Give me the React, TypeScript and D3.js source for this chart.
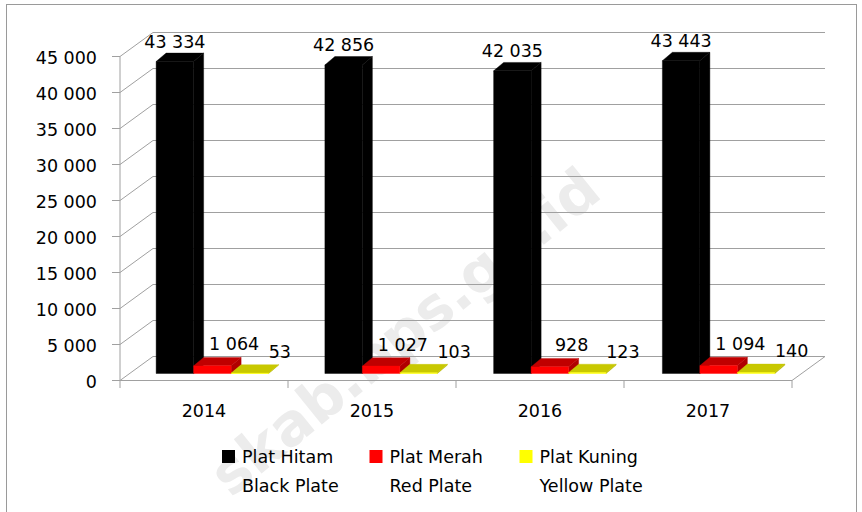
import React from "react";
import * as d3 from "d3";

const years = ["2014", "2015", "2016", "2017"];
const seriesNames = ["Plat Hitam", "Plat Merah", "Plat Kuning"];
const seriesSubNames = ["Black Plate", "Red Plate", "Yellow Plate"];
const platHitam = [43334, 42856, 42035, 43443];
const platMerah = [1064, 1027, 928, 1094];
const platKuning = [53, 103, 123, 140];
const yTicks = [0, 5000, 10000, 15000, 20000, 25000, 30000, 35000, 40000, 45000];

const W = 862;
const H = 512;
const FONT = "DejaVu Sans";
const FS = 17.5;
const GRID = "#a0a0a0";

// face colours per series: [front, top, side]
const faceColors = [
  ["#000000", "#000000", "#000000"],
  ["#ff0000", "#c00000", "#b00000"],
  ["#ffff00", "#c8c800", "#b4b400"],
];
const legendColors = ["#000000", "#ff0000", "#ffff00"];

const fmt = d3.formatLocale({ decimal: ",", thousands: " ", grouping: [3], currency: ["", ""] }).format(",");

export default function App() {
  const values = [platHitam, platMerah, platKuning];
  const x0 = 120, x1 = 792;
  const x = d3.scaleBand<string>().domain(years).range([x0, x1]).paddingInner(0).paddingOuter(0);
  const xs = d3
    .scaleBand<string>()
    .domain(seriesNames)
    .range([0, x.bandwidth()])
    .paddingInner(0)
    .paddingOuter(0.75);
  const y = d3.scaleLinear().domain([0, 45000]).range([380.5, 56.5]);

  // wall / floor depth (oblique)
  const DX = 33, DY = -24;
  // bar depth placement
  const frontDX = (px: number) => 8 + (3 * (px - x0)) / (x1 - x0);
  const frontDY = -7;
  const barDX = 10, barDY = -8.4;

  const bars: React.ReactNode[] = [];
  const labels: React.ReactNode[] = [];

  years.forEach((yr, i) => {
    seriesNames.forEach((s, k) => {
      const v = values[k][i];
      const pxL = (x(yr) as number) + (xs(s) as number);
      const pxR = pxL + xs.bandwidth();
      const lx = pxL + frontDX(pxL);
      const rx = pxR + frontDX(pxR);
      const yt = y(v) + frontDY;
      const yb = y(0) + frontDY;
      const [cf, ct, cs] = faceColors[k];
      const front = `M${lx},${yt}L${rx},${yt}L${rx},${yb}L${lx},${yb}Z`;
      const top = `M${lx},${yt}L${rx},${yt}L${rx + barDX},${yt + barDY}L${lx + barDX},${yt + barDY}Z`;
      const side = `M${rx},${yt}L${rx + barDX},${yt + barDY}L${rx + barDX},${yb + barDY}L${rx},${yb}Z`;
      bars.push(
        <g key={`b-${i}-${k}`}>
          <path d={side} fill={cs} stroke={cs} strokeWidth={0.4} />
          <path d={top} fill={ct} stroke={ct} strokeWidth={0.4} />
          <path d={front} fill={cf} stroke={cf} strokeWidth={0.4} />
        </g>
      );
      let tx: number, anchor: string, ty: number;
      if (k === 0) {
        tx = (lx + rx) / 2;
        anchor = "middle";
        ty = yt - 13.7;
      } else if (k === 1) {
        tx = rx + 3;
        anchor = "middle";
        ty = yt - 15.5;
      } else {
        tx = rx;
        anchor = "start";
        ty = yt - 15;
      }
      labels.push(
        <text key={`l-${i}-${k}`} x={tx} y={ty} textAnchor={anchor} fontFamily={FONT} fontSize={FS} fill="#000">
          {fmt(v)}
        </text>
      );
    });
  });

  const legendX = [222, 369.5, 519.5];

  return (
    <svg width={W} height={H} style={{ position: "absolute", left: 0, top: 0, background: "#fff" }}>
      <rect x={0} y={0} width={W} height={H} fill="#fff" />
      <rect x={6.5} y={4.5} width={850} height={510} fill="none" stroke="#9a9a9a" strokeWidth={1} />

      {/* watermark */}
      <text
        x={0}
        y={0}
        transform="translate(604,196) rotate(-39)"
        textAnchor="end"
        fontFamily={FONT}
        fontWeight="bold"
        fontSize={58}
        fill="#ececec"
      >
        skab.bps.go.id
      </text>

      {/* left wall diagonals and back wall gridlines */}
      {yTicks.map((t) => (
        <g key={`g-${t}`}>
          <line x1={x0} y1={y(t)} x2={x0 + DX} y2={y(t) + DY} stroke={GRID} strokeWidth={1} />
          <line x1={x0 + DX} y1={y(t) + DY} x2={x1 + DX} y2={y(t) + DY} stroke={GRID} strokeWidth={1} />
        </g>
      ))}
      {/* floor */}
      <line x1={x0} y1={y(0)} x2={x1} y2={y(0)} stroke={GRID} strokeWidth={1} />
      <line x1={x1} y1={y(0)} x2={x1 + DX} y2={y(0) + DY} stroke={GRID} strokeWidth={1} />
      {/* y axis */}
      <line x1={x0} y1={y(0)} x2={x0} y2={y(45000)} stroke={GRID} strokeWidth={1} />
      {yTicks.map((t) => (
        <g key={`yt-${t}`}>
          <line x1={x0 - 8} y1={y(t)} x2={x0} y2={y(t)} stroke={GRID} strokeWidth={1} />
          <text x={97} y={y(t) + 7.5} textAnchor="end" fontFamily={FONT} fontSize={FS} fill="#000">
            {fmt(t)}
          </text>
        </g>
      ))}
      {/* x axis ticks */}
      {[...years.map((yr) => x(yr) as number), x1].map((px, i) => (
        <line key={`xt-${i}`} x1={px} y1={y(0)} x2={px} y2={y(0) + 7.5} stroke={GRID} strokeWidth={1} />
      ))}
      {years.map((yr) => (
        <text
          key={`xl-${yr}`}
          x={(x(yr) as number) + x.bandwidth() / 2}
          y={416.5}
          textAnchor="middle"
          fontFamily={FONT}
          fontSize={FS}
          fill="#000"
        >
          {yr}
        </text>
      ))}

      {bars}
      {labels}

      {/* legend */}
      {seriesNames.map((s, k) => (
        <g key={`lg-${k}`}>
          <rect x={legendX[k]} y={450} width={13} height={13} fill={legendColors[k]} />
          <text x={legendX[k] + 20} y={463.3} fontFamily={FONT} fontSize={FS} fill="#000">
            {s}
          </text>
          <text x={legendX[k] + 20} y={491.7} fontFamily={FONT} fontSize={FS} fill="#000">
            {seriesSubNames[k]}
          </text>
        </g>
      ))}
    </svg>
  );
}
